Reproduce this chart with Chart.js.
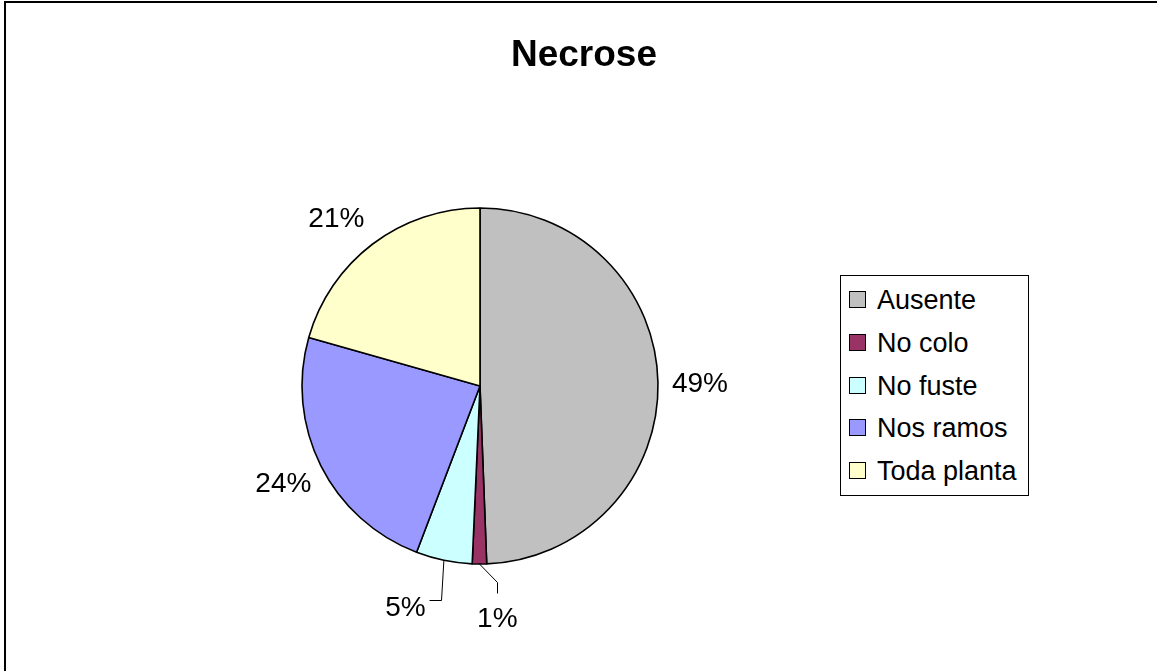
<!DOCTYPE html>
<html>
<head>
<meta charset="utf-8">
<script src="https://cdn.jsdelivr.net/npm/chart.js@4.4.0/dist/chart.umd.min.js"></script>
<style>
  body { margin: 0; background: #fff; font-family: "Liberation Sans", Arial, sans-serif; }
  #wrap { position: relative; width: 1157px; height: 671px; overflow: hidden; }
  #frame { position: absolute; left: 4px; top: 1px; width: 1200px; height: 720px; border: 2px solid #000; }
  #chart { position: absolute; left: 0; top: 0; }
  #title { position: absolute; left: 0; top: 35px; width: 1168px; text-align: center;
           font-weight: bold; font-size: 37px; line-height: 37px; color: #000; }
  #legend { position: absolute; left: 840px; top: 275px; width: 187px; height: 219px;
            border: 1px solid #000; background: #fff; }
  .item { position: absolute; left: 0; height: 42px; line-height: 42px; font-size: 27px;
          white-space: nowrap; color: #000; }
  .swatch { position: absolute; left: 8px; top: 12px; width: 15px; height: 15px; border: 1px solid #000; }
  .text { position: absolute; left: 36px; top: 0; }
</style>
</head>
<body>
<div id="wrap">
  <div id="frame"></div>
  <canvas id="chart" width="1157" height="671"></canvas>
  <div id="title">Necrose</div>
  <div id="legend"></div>
</div>
<script>
// chart data (slice shares, labels are rounded)
const categories = ["Ausente", "No colo", "No fuste", "Nos ramos", "Toda planta"];
const shares = [49.4, 1.3, 5.1, 23.6, 20.6];
const sliceColors = ["#C0C0C0", "#993366", "#CCFFFF", "#9999FF", "#FFFFCC"];

const total = shares.reduce((a, b) => a + b, 0);
const percentLabels = shares.map((v) => Math.round((v / total) * 100) + "%");

// HTML legend
const legendEl = document.getElementById("legend");
categories.forEach((name, i) => {
  const row = document.createElement("div");
  row.className = "item";
  row.style.top = (24 + i * 42.75 - 21) + "px";
  row.innerHTML = '<span class="swatch" style="background:' + sliceColors[i] + '"></span>' +
    '<span class="text">' + name + "</span>";
  legendEl.appendChild(row);
});

// percentage labels, with leader lines for the thin slices
const pieLabels = {
  id: "pieLabels",
  afterDatasetsDraw(chart, args, opts) {
    const ctx = chart.ctx;
    const meta = chart.getDatasetMeta(0);
    const fs = opts.fontSize;
    ctx.save();
    ctx.font = fs + 'px "Liberation Sans", Arial, sans-serif';
    ctx.fillStyle = "#000";
    ctx.strokeStyle = "#000";
    ctx.lineWidth = 1;
    ctx.textAlign = "center";
    ctx.textBaseline = "alphabetic";
    meta.data.forEach((arc, i) => {
      const mid = (arc.startAngle + arc.endAngle) / 2;
      const cx = arc.x, cy = arc.y, r = arc.outerRadius;
      let lx = cx + Math.cos(mid) * opts.distance;
      let ly = cy + Math.sin(mid) * opts.distance;
      const shift = opts.shifts[i];
      if (shift) {
        lx += shift.dx;
        ly += shift.dy;
        if (shift.leader) {
          const ex = cx + Math.cos(mid) * r;
          const ey = cy + Math.sin(mid) * r;
          ctx.beginPath();
          ctx.moveTo(ex, ey);
          shift.leader.forEach((p) => ctx.lineTo(Math.round(lx + p[0]) + 0.5, Math.round(ly + p[1]) + 0.5));
          ctx.stroke();
        }
      }
      ctx.fillText(percentLabels[i], lx, ly + fs * 0.358);
    });
    ctx.restore();
  },
};

new Chart(document.getElementById("chart"), {
  type: "pie",
  data: {
    labels: categories,
    datasets: [
      {
        data: shares,
        backgroundColor: sliceColors,
        borderColor: "#000",
        borderWidth: 1.6,
        radius: 178,
      },
    ],
  },
  options: {
    responsive: false,
    animation: false,
    layout: { padding: { left: 300, right: 497, top: 206, bottom: 105 } },
    plugins: {
      legend: { display: false },
      title: { display: false },
      tooltip: { enabled: false },
      pieLabels: {
        fontSize: 28,
        distance: 220,
        shifts: {
          1: { dx: 18, dy: 11, leader: [[0, -35], [0, -24]] },
          2: { dx: -30, dy: 5, leader: [[36, -6], [24, -6]] },
          3: { dx: 0, dy: -3 },
          4: { dx: -11, dy: 6 },
        },
      },
    },
  },
  plugins: [pieLabels],
});
</script>
</body>
</html>
